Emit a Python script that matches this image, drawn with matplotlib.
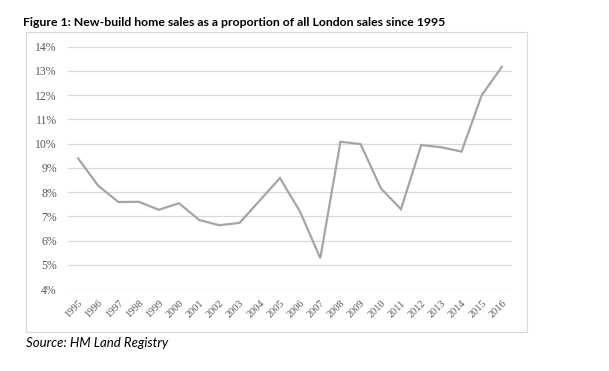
import matplotlib
matplotlib.use("Agg")
import matplotlib.pyplot as plt
from matplotlib.patches import Rectangle
from matplotlib.ticker import FuncFormatter, MultipleLocator

years = [str(y) for y in range(1995, 2017)]
share = [9.39, 8.26, 7.59, 7.60, 7.27, 7.54, 6.85, 6.63, 6.73, 7.65, 8.58,
         7.19, 5.27, 10.08, 9.98, 8.16, 7.29, 9.94, 9.85, 9.67, 12.0, 13.17]

title = "Figure 1: New-build home sales as a proportion of all London sales since 1995"
source = "Source: HM Land Registry"

W, H = 609, 371
fig = plt.figure(figsize=(W/100, H/100), dpi=100)

# chart border box
fig.patches.append(Rectangle((26/W, 1-332/H), (527-26)/W, (332-32)/H,
                             transform=fig.transFigure, fill=False,
                             edgecolor="#d9d9d9", linewidth=0.8))

ax = fig.add_axes([68/W, 1-289/H, (512-68)/W, (289-46.7)/H])
x = list(range(len(years)))
ax.plot(x, share, color="#a5a5a5", linewidth=1.6, solid_joinstyle="miter")
ax.set_xlim(-0.5, len(years)-0.5)
ax.set_ylim(4, 14)
ax.yaxis.set_major_locator(MultipleLocator(1))
ax.yaxis.set_major_formatter(FuncFormatter(lambda v, p: f"{v:.0f}%"))
ax.grid(axis="y", color="#d9d9d9", linewidth=0.9)
ax.set_axisbelow(True)
for s in ax.spines.values():
    s.set_visible(False)
ax.tick_params(length=0, colors="#595959")
ax.set_xticks(x)
ax.set_xticklabels(years, rotation=45, ha="right", rotation_mode="anchor",
                   fontsize=7.5, family="Liberation Serif", color="#595959")
for lab in ax.get_yticklabels():
    lab.set_fontfamily("Liberation Serif")
    lab.set_fontsize(8.5)
    lab.set_color("#595959")
ax.tick_params(axis="y", pad=8)
ax.tick_params(axis="x", pad=7)

fig.text(23/W, 1-26.5/H, title, fontsize=8.8, fontweight="bold", family="Lato",
         color="black", va="baseline")
fig.text(26/W, 1-347/H, source, fontsize=9.5, fontstyle="italic", family="Lato",
         color="black", va="baseline")

fig.savefig("out.png", dpi=100)
